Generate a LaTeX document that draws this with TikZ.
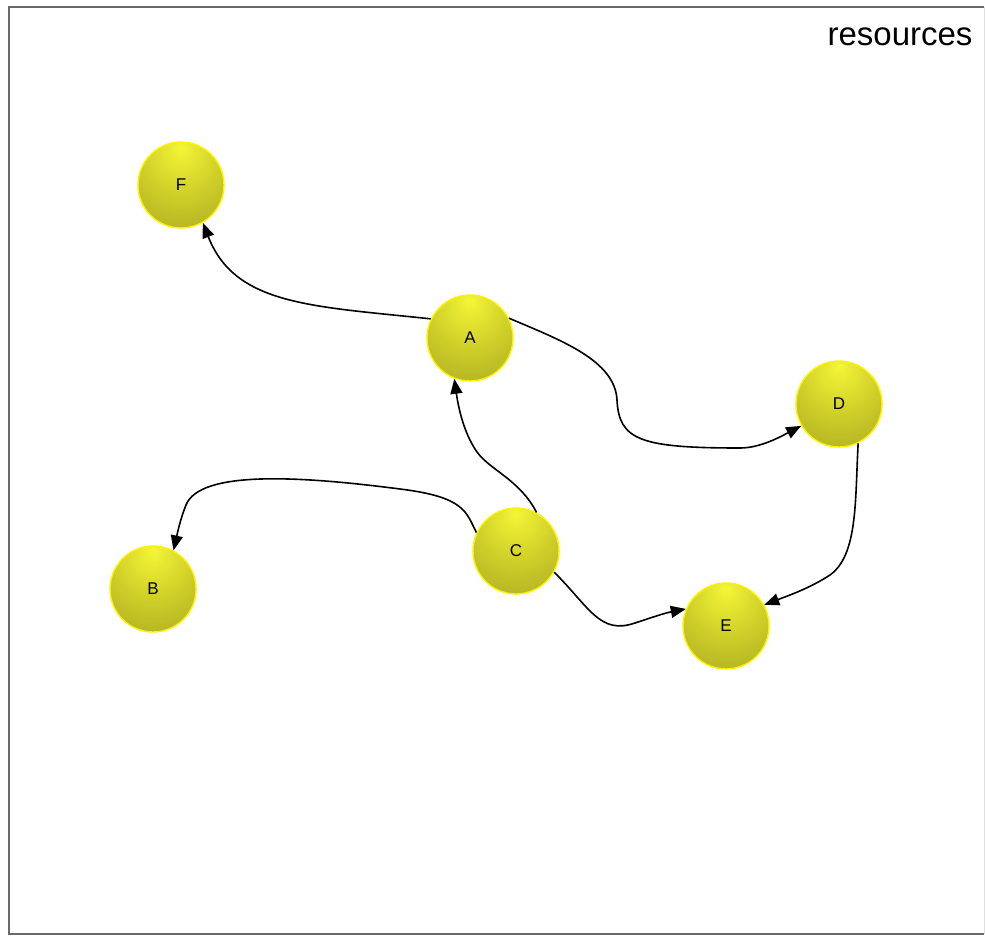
\documentclass[tikz,border=0pt]{standalone}
\usepackage{fontspec}
\setmainfont{Liberation Sans}
\usetikzlibrary{arrows.meta}
\definecolor{ballhi}{RGB}{245,245,55}
\definecolor{ballmid}{RGB}{208,208,42}
\definecolor{balllo}{RGB}{148,148,28}
\definecolor{framegray}{RGB}{105,105,105}
\pgfdeclareradialshading{nodeball}{\pgfpoint{0bp}{22bp}}{color(0bp)=(ballhi); color(22bp)=(ballmid); color(62bp)=(balllo); color(100bp)=(balllo)}
\tikzset{
  ballnode/.style={circle, minimum size=86pt, inner sep=0pt, draw=yellow, line width=1.4pt, shading=nodeball, font=\fontsize{17}{20}\selectfont},
  edge/.style={line width=1.6pt, black, -{Triangle[length=15pt,width=12pt]}},
}
\begin{document}
\begin{tikzpicture}[x=1pt,y=-1pt]
\useasboundingbox (0,0) rectangle (985,939);
\fill[white] (0,0) rectangle (985,939);
\draw[framegray, line width=1.5pt] (984,7) -- (9,7) -- (9,934) -- (984,934);
\draw[gray!25, line width=1pt] (984,7) -- (984,934);
\node[anchor=base east, font=\fontsize{33}{38}\selectfont] (title) at (976,46) {resources};
\node[ballnode] (F) at (181,185) {F};
\node[ballnode] (A) at (470,338) {A};
\node[ballnode] (D) at (839,404) {D};
\node[ballnode] (B) at (153,589) {B};
\node[ballnode] (C) at (516,551) {C};
\node[ballnode] (E) at (726,626) {E};
\draw[edge] (A.154) .. controls (310,306) and (235,305) .. (F.300);
\draw[edge] (A.27) .. controls (560,340) and (615,360) .. (617,400) .. controls (619,440) and (640,448) .. (740,448) .. controls (760,448) and (780,437) .. (D.210);
\draw[edge] (C.62) .. controls (520,480) and (490,470) .. (477,452) .. controls (463,432) and (458,405) .. (A.249);
\draw[edge] (C.155) .. controls (466,512) and (465,497) .. (400,489) .. controls (300,476) and (200,470) .. (186,505) .. controls (180,520) and (177,535) .. (B.62);
\draw[edge] (C.331) .. controls (590,608) and (600,635) .. (635,623) .. controls (650,618) and (665,613) .. (E.157);
\draw[edge] (D.296) .. controls (855,500) and (858,555) .. (830,575) .. controls (810,588) and (790,595) .. (E.29);
\end{tikzpicture}
\end{document}
